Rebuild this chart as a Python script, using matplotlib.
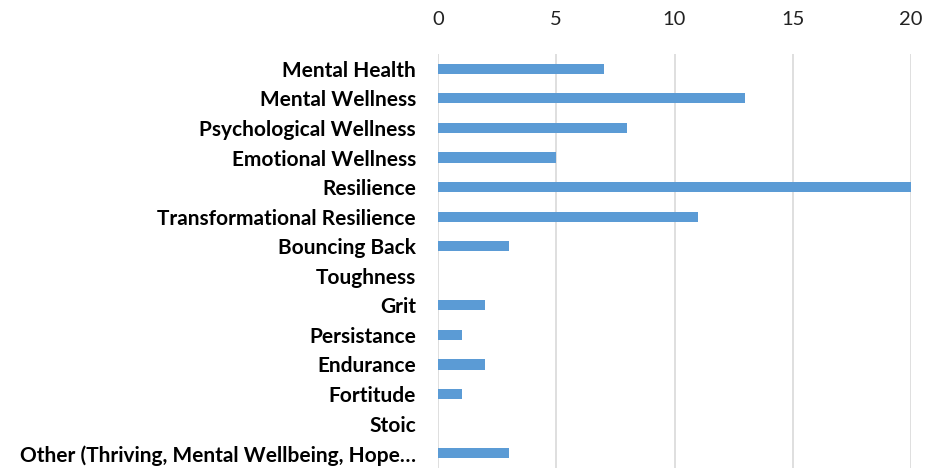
import matplotlib
matplotlib.use("Agg")
import matplotlib.pyplot as plt

categories = ["Mental Health", "Mental Wellness", "Psychological Wellness",
              "Emotional Wellness", "Resilience", "Transformational Resilience",
              "Bouncing Back", "Toughness", "Grit", "Persistance", "Endurance",
              "Fortitude", "Stoic", "Other (Thriving, Mental Wellbeing, Hope\u2026"]
values = [7, 13, 8, 5, 20, 11, 3, 0, 2, 1, 2, 1, 0, 3]
xticks = [0, 5, 10, 15, 20]

plt.rcParams['font.family'] = ['Lato', 'DejaVu Sans']

fig = plt.figure(figsize=(9.25, 4.68), dpi=100)
ax = fig.add_axes([438 / 925, 0, (911 - 438) / 925, (468 - 54) / 468])

pos = list(range(len(categories)))
ax.barh(pos, values, height=0.34, color="#5B9BD5", zorder=3)

ax.set_ylim(len(categories) - 0.5, -0.5)
ax.set_xlim(0, 20)
ax.set_xticks(xticks)
ax.xaxis.tick_top()
ax.tick_params(axis='x', length=0, pad=19, labelsize=14.5, labelcolor="#222222")
ax.set_yticks(pos)
ax.set_yticklabels(categories, fontsize=15, fontweight='bold')
ax.tick_params(axis='y', length=0, pad=16)

ax.grid(axis='x', color="#D9D9D9", linewidth=1.2, zorder=0)
for s in ax.spines.values():
    s.set_visible(False)

fig.savefig("out.png", dpi=100)
